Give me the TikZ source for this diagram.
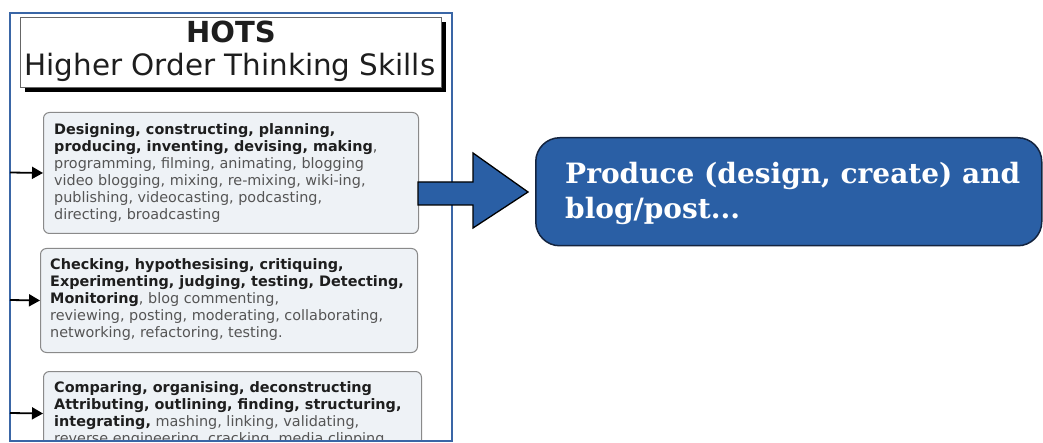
\documentclass[tikz,border=0pt]{standalone}
\usepackage{fontspec}
\setmainfont{DejaVu Sans}
\newfontfamily\prodfont{DejaVu Serif}
\usetikzlibrary{arrows.meta}
\definecolor{frameblue}{HTML}{3A66A6}
\definecolor{boxfill}{HTML}{EEF2F6}
\definecolor{boxline}{HTML}{8A8A8A}
\definecolor{txtgrey}{HTML}{555555}
\definecolor{txtdark}{HTML}{1E1E1E}
\definecolor{bigblue}{HTML}{2A5FA5}
\definecolor{navy}{HTML}{14243F}
\newcommand{\bd}[1]{{\color{txtdark}\bfseries #1}}
\begin{document}
\begin{tikzpicture}[x=1pt,y=-1pt,
  skillbox/.style={draw=boxline, fill=boxfill, rounded corners=6pt, line width=1pt, anchor=north west, inner sep=0pt},
  skilltext/.style={anchor=north west, inner sep=0pt, align=left, font=\fontsize{14.4}{17}\selectfont, text=txtgrey},
  feed/.style={-{Triangle[length=11pt,width=12pt]}, line width=1.8pt, black},
]
\useasboundingbox (0,0) rectangle (1043,443);
\fill[white] (0,0) rectangle (1043,443);

% title box with shadow
\fill[black] (25,22) rectangle (446,92);
\node[draw=black!60, fill=white, line width=0.8pt, minimum width=421pt, minimum height=70pt, anchor=north west, inner sep=0pt] (title) at (20,17) {};
\node[anchor=base, inner sep=0pt, font=\fontsize{29}{32}\selectfont\bfseries, text=txtdark] (hots) at (231,43) {HOTS};
\node[anchor=base, inner sep=0pt, font=\fontsize{29.4}{32}\selectfont, text=txtdark] (hots2) at (230,76) {Higher Order Thinking Skills};

% skill boxes
\node[skillbox, minimum width=375pt, minimum height=121pt] (b1) at (43,112) {};
\node[skilltext] (t1) at (54,123) {\bd{Designing, constructing, planning,}\\
\bd{producing, inventing, devising, making},\\
programming, filming, animating, blogging\\
video blogging, mixing, re-mixing, wiki-ing,\\
publishing, videocasting, podcasting,\\
directing, broadcasting};

\node[skillbox, minimum width=377pt, minimum height=104pt] (b2) at (40,248) {};
\node[skilltext] (t2) at (50,258) {\bd{Checking, hypothesising, critiquing,}\\
\bd{Experimenting, judging, testing, Detecting,}\\
\bd{Monitoring}, blog commenting,\\
reviewing, posting, moderating, collaborating,\\
networking, refactoring, testing.};

\begin{scope}
\clip (0,0) rectangle (1043,440);
\node[skillbox, minimum width=378pt, minimum height=84pt] (b3) at (43,371) {};
\node[skilltext] (t3) at (54,381) {\bd{Comparing, organising, deconstructing}\\
\bd{Attributing, outlining, finding, structuring,}\\
\bd{integrating,} mashing, linking, validating,\\
reverse engineering, cracking, media clipping};
\end{scope}

% frame
\draw[frameblue, line width=2.5pt] (10,441) -- (10,13) -- (452,13) -- (452,441) -- cycle;
\coordinate (f1) at (10,172.5);
\coordinate (f2) at (10,300);
\coordinate (f3) at (10,413);
\draw[feed] (f1) -- (b1.west);
\draw[feed] (f2) -- (b2.west);
\draw[feed] (f3) -- (b3.west);

% product box
\node[draw=navy, fill=bigblue, rounded corners=24pt, line width=1.5pt, minimum width=506pt, minimum height=108pt, anchor=north west, inner sep=0pt] (prod) at (535,137) {};
\node[anchor=north west, inner sep=0pt, align=left, text=white, font=\prodfont\bfseries\fontsize{28}{35}\selectfont] (prodtext) at (565,162) {Produce (design, create) and\\blog/post...};

% big arrow
\draw[fill=bigblue, draw=black, line width=1.3pt, line join=miter]
  (418,182) -- (473,182) -- (473,153) -- (528,192) -- (473,228) -- (473,205) -- (418,205) -- cycle;
\end{tikzpicture}
\end{document}
